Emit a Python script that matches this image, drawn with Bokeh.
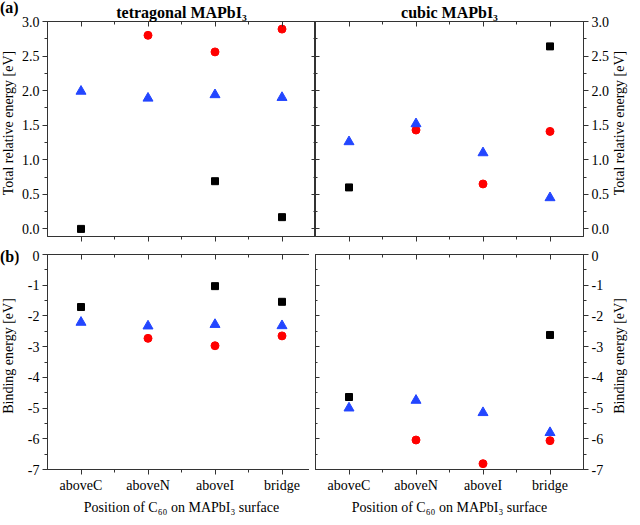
import math
from bokeh.plotting import figure
from bokeh.layouts import gridplot, row, column
from bokeh.models import Range1d, LinearAxis, FixedTicker, NumeralTickFormatter, Div
from bokeh.embed import file_html
from bokeh.resources import INLINE

# ---------------- data ----------------
positions = ["aboveC", "aboveN", "aboveI", "bridge"]
nan = float("nan")

tet_total_sq = [0.0, nan, 0.69, 0.17]
tet_total_ci = [nan, 2.80, 2.56, 2.89]
tet_total_tr = [1.99, 1.89, 1.94, 1.90]

cub_total_sq = [0.60, nan, nan, 2.64]
cub_total_ci = [nan, 1.43, 0.65, 1.41]
cub_total_tr = [1.26, 1.52, 1.10, 0.45]

tet_bind_sq = [-1.71, nan, -1.03, -1.54]
tet_bind_ci = [nan, -2.73, -2.97, -2.65]
tet_bind_tr = [-2.21, -2.33, -2.28, -2.32]

cub_bind_sq = [-4.64, nan, nan, -2.62]
cub_bind_ci = [nan, -6.04, -6.81, -6.06]
cub_bind_tr = [-5.00, -4.75, -5.15, -5.80]

total_ticks = [0.0, 0.5, 1.0, 1.5, 2.0, 2.5, 3.0]
total_minor = [0.25, 0.75, 1.25, 1.75, 2.25, 2.75]
bind_ticks = [0, -1, -2, -3, -4, -5, -6, -7]
bind_minor = [-0.5, -1.5, -2.5, -3.5, -4.5, -5.5, -6.5]

# ---------------- style ----------------
FONT = "Liberation Serif"
AX = "#333333"
BLUE = "#2346ff"
RED = "#ff0000"
BLACK = "#000000"

xs = [i + 1 for i in range(len(positions))]
x_minor = [x + 0.5 for x in xs[:-1]]
x_labels = {x: name for x, name in zip(xs, positions)}

FW, FH = 268, 215
TOP_BT, TOP_BB = 15, 14      # borders of the upper figures
BOT_BT, BOT_BB = 4, 46       # borders of the lower figures
TOP_H = TOP_BT + FH + TOP_BB
BOT_H = BOT_BT + FH + BOT_BB


def style_axis(ax, tick_in=0, tick_out=5, minor_in=0, minor_out=3, labels=True):
    ax.axis_line_color = AX
    ax.major_tick_line_color = AX
    ax.minor_tick_line_color = AX
    ax.major_tick_in = tick_in
    ax.major_tick_out = tick_out
    ax.minor_tick_in = minor_in
    ax.minor_tick_out = minor_out
    ax.major_label_text_font = FONT
    ax.axis_label_text_font = FONT
    ax.axis_label_text_font_style = "normal"
    ax.axis_label_text_font_size = "14px"
    ax.axis_label_text_color = "black"
    ax.major_label_standoff = 3
    ax.axis_label_standoff = 4
    if labels:
        ax.major_label_text_font_size = "14px"
        ax.major_label_text_color = "black"
    else:
        ax.major_label_text_font_size = "0px"
        ax.major_label_text_color = None
        ax.major_label_standoff = 0


def make_panel(sq, ci, tr, yr, yticks, yminor, yfmt, left, top, title):
    kw = dict(
        frame_width=FW, frame_height=FH,
        x_range=Range1d(0.5, 4.5), y_range=Range1d(*yr),
        output_backend="svg", toolbar_location=None,
        y_axis_location="left" if left else "right",
        min_border_left=2 if left else 0,
        min_border_right=0 if left else 2,
        min_border_top=TOP_BT if top else BOT_BT,
        min_border_bottom=TOP_BB if top else BOT_BB,
    )
    p = figure(**kw)
    p.xgrid.visible = False
    p.ygrid.visible = False
    p.outline_line_color = AX
    p.background_fill_color = "white"
    p.border_fill_color = "white"

    xt = FixedTicker(ticks=xs, minor_ticks=x_minor)
    yt = FixedTicker(ticks=yticks, minor_ticks=yminor)

    xa = p.xaxis[0]
    xa.ticker = xt
    xa.major_label_overrides = x_labels
    style_axis(xa, labels=not top)
    if not top:
        xa.axis_label = "Position of C\u2086\u2080 on MAPbI\u2083 surface"
    ta = LinearAxis(ticker=xt)
    style_axis(ta, tick_in=5, tick_out=0, minor_in=3, minor_out=0, labels=False)
    p.add_layout(ta, "above")

    ya = p.yaxis[0]
    ya.ticker = yt
    ya.formatter = NumeralTickFormatter(format=yfmt)
    style_axis(ya)
    ma = LinearAxis(ticker=yt)
    style_axis(ma, tick_in=4, tick_out=0, minor_in=2, minor_out=0, labels=False)
    p.add_layout(ma, "right" if left else "left")

    if title:
        p.title.text = title
        p.title.align = "center"
        p.title.text_font = FONT
        p.title.text_font_style = "bold"
        p.title.text_font_size = "16px"
        p.title.text_color = "black"
        p.title.standoff = 2

    p.scatter(xs, sq, marker="square", size=7, color=BLACK)
    p.scatter(xs, ci, marker="circle", size=8, color=RED)
    p.scatter(xs, tr, marker="triangle", size=10, color=BLUE)
    return p


def side_div(fig_h, frame_top, text, width, tag=None, tag_top=0):
    parts = [
        '<div style="position:relative;width:%dpx;height:%dpx;'
        "font-family:'Liberation Serif';color:black;\">" % (width, fig_h)
    ]
    if tag:
        parts.append(
            '<div style="position:absolute;left:0;top:%dpx;font-size:16px;'
            'font-weight:bold;line-height:16px;white-space:nowrap;">%s</div>'
            % (tag_top, tag))
    cy = frame_top + FH / 2.0
    parts.append(
        '<div style="position:absolute;left:50%%;top:%.1fpx;'
        'transform:translate(-50%%,-50%%) rotate(-90deg);font-size:14px;'
        'line-height:16px;white-space:nowrap;">%s</div>' % (cy, text))
    parts.append("</div>")
    return Div(text="".join(parts), width=width, height=fig_h, margin=(0, 0, 0, 0))


p_a1 = make_panel(tet_total_sq, tet_total_ci, tet_total_tr, (-0.11, 3.0),
                  total_ticks, total_minor, "0.0", True, True, "tetragonal MAPbI\u2083")
p_a2 = make_panel(cub_total_sq, cub_total_ci, cub_total_tr, (-0.11, 3.0),
                  total_ticks, total_minor, "0.0", False, True, "cubic MAPbI\u2083")
p_b1 = make_panel(tet_bind_sq, tet_bind_ci, tet_bind_tr, (-7, 0),
                  bind_ticks, bind_minor, "0", True, False, None)
p_b2 = make_panel(cub_bind_sq, cub_bind_ci, cub_bind_tr, (-7, 0),
                  bind_ticks, bind_minor, "0", False, False, None)

grid = gridplot([[p_a1, p_a2], [p_b1, p_b2]], toolbar_location=None)

LW, RW = 18, 16
left_col = column(
    side_div(TOP_H, TOP_BT, "Total relative energy [eV]", LW, "(a)", 0),
    side_div(BOT_H, BOT_BT, "Binding energy [eV]", LW, "(b)", BOT_BT + 1),
    spacing=0,
)
right_col = column(
    side_div(TOP_H, TOP_BT, "Total relative energy [eV]", RW),
    side_div(BOT_H, BOT_BT, "Binding energy [eV]", RW),
    spacing=0,
)

p = row(left_col, grid, right_col, spacing=0)

open("out.html", "w").write(file_html(p, INLINE))
